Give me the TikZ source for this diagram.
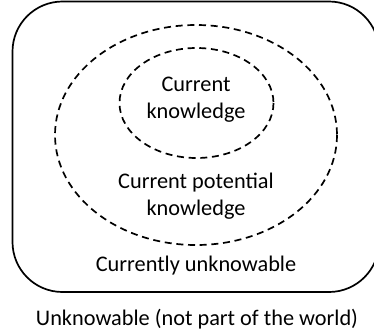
\documentclass[tikz,border=0pt]{standalone}
\usepackage{fontspec}
\setmainfont{Carlito}
\begin{document}
\begin{tikzpicture}[x=1pt,y=-1pt,
  frame/.style={draw=black,line width=1.7pt,rounded corners=50pt},
  dashell/.style={draw=black,line width=1.7pt,dash pattern=on 7pt off 4.7pt},
  lbl/.style={font=\fontsize{22.3}{27}\selectfont,align=center,inner sep=0pt}]
\useasboundingbox (0,0) rectangle (374,333);
\begin{scope}
\clip (0,0) rectangle (374,333);
\draw[frame] (12.5,1.5) rectangle (379,292);
\end{scope}
\draw[dashell] (196,135) ellipse [x radius=141,y radius=110];
\draw[dashell] (196.5,103) ellipse [x radius=77,y radius=55];
\node[lbl] (ck) at (196,100) {Current\\knowledge};
\node[lbl] (cpk) at (196,196) {Current potential\\knowledge};
\node[lbl] (cu) at (196,266) {Currently unknowable};
\node[lbl] (u) at (197,319) {Unknowable (not part of the world)};
\end{tikzpicture}
\end{document}
